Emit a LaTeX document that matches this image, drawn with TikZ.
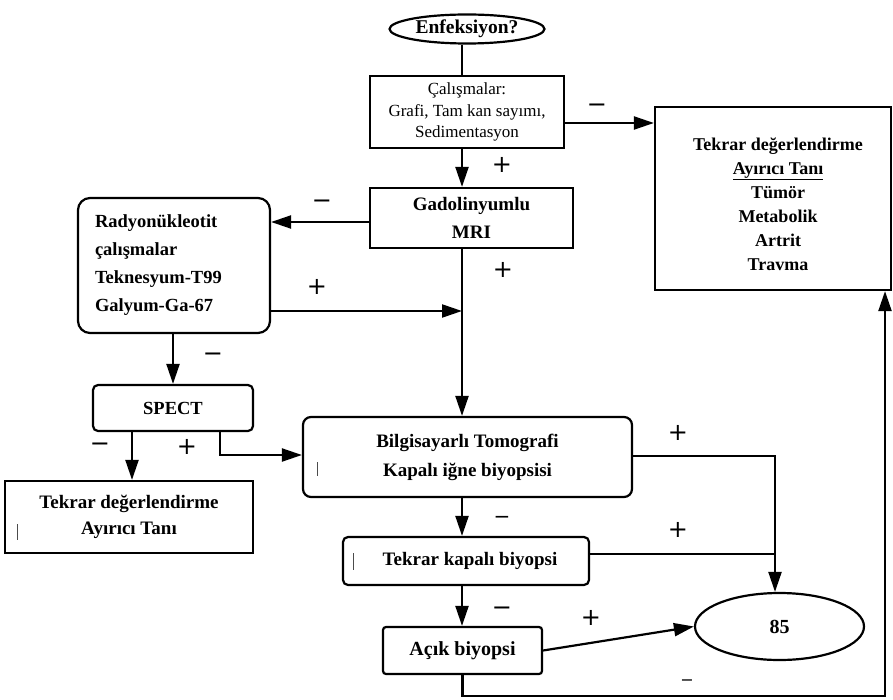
\documentclass[tikz,border=0pt]{standalone}
\usepackage{fontspec}
\setmainfont{Liberation Serif}
\newfontfamily\signfont{DejaVu Sans}
\usetikzlibrary{shapes.geometric,arrows.meta}
\begin{document}
\begin{tikzpicture}[x=1pt,y=-1pt,
  box/.style={draw, line width=2.2pt, inner sep=0pt, align=center,
    font=\bfseries\fontsize{18.5}{28}\selectfont},
  rbox/.style={box, rounded corners=#1},
  lbl/.style={font=\signfont\fontsize{24}{24}\selectfont, inner sep=0pt},
  arr/.style={line width=2.2pt, -{Triangle[length=20pt,width=13pt]}},
  ln/.style={line width=2.2pt},
  thinln/.style={line width=1.2pt},
  scanmark/.style={line width=1pt, black!70}]
\useasboundingbox[fill=white] (0,0) rectangle (893,700);
% spine coordinates
\coordinate (mx) at (462,0);
\coordinate (jx) at (775,0);
\coordinate (rx) at (885,0);
% nodes
\node[box, ellipse, minimum width=155pt, minimum height=29pt,
  font=\bfseries\fontsize{19.5}{24}\selectfont] (enf) at (467,29) {Enfeksiyon?};
\node[box, minimum width=194pt, minimum height=72pt,
  font=\fontsize{17}{21.5}\selectfont] (cal) at (467,112)
  {Çalışmalar:\\Grafi, Tam kan sayımı,\\Sedimentasyon};
\node[box, minimum width=203pt, minimum height=60pt,
  font=\bfseries\fontsize{19}{28}\selectfont] (gad) at (471.5,218) {Gadolinyumlu\\MRI};
\node[box, minimum width=236pt, minimum height=183pt] (rb) at (773,198.5) {};
\node[font=\bfseries\fontsize{18}{24}\selectfont, align=center, inner sep=0pt] (rbt) at (778,204)
  {Tekrar değerlendirme\\\underline{Ayırıcı Tanı}\\Tümör\\Metabolik\\Artrit\\Travma};
\node[rbox=12pt, minimum width=192pt, minimum height=135pt, align=left,
  text width=158pt, inner xsep=17pt] (rad) at (174,265.5)
  {Radyonükleotit\\çalışmalar\\Teknesyum-T99\\Galyum-Ga-67};
\node[rbox=5pt, minimum width=160pt, minimum height=46pt] (spect) at (173,408) {SPECT};
\node[box, minimum width=248pt, minimum height=72pt,
  font=\bfseries\fontsize{19}{26}\selectfont] (tl) at (129,517)
  {Tekrar değerlendirme\\Ayırıcı Tanı};
\node[rbox=8pt, minimum width=329pt, minimum height=80pt,
  font=\bfseries\fontsize{19}{29}\selectfont] (bt) at (467.5,457)
  {Bilgisayarlı Tomografi\\Kapalı iğne biyopsisi};
\node[rbox=5pt, minimum width=246pt, minimum height=48pt,
  font=\bfseries\fontsize{19}{24}\selectfont] (tk) at (466,561) {\hspace*{8pt}Tekrar kapalı biyopsi};
\node[rbox=3pt, minimum width=159pt, minimum height=47pt,
  font=\bfseries\fontsize{20}{24}\selectfont] (ab) at (462.5,650.5) {Açık biyopsi};
\node[box, ellipse, minimum width=169pt, minimum height=67pt,
  font=\bfseries\fontsize{20}{24}\selectfont] (e85) at (779.5,626.5) {85};
% connectors
\draw[ln] (enf.south -| mx) -- (cal.north -| mx);
\draw[arr] (cal.south -| mx) -- (gad.north -| mx);
\draw[arr] (cal.east |- 0,123) -- (rb.west |- 0,123);
\draw[arr] (gad.west |- 0,222) -- (rad.east |- 0,222);
\draw[arr] (gad.south -| mx) -- (bt.north -| mx);
\draw[arr] (rad.east |- 0,311) -- (mx |- 0,311);
\draw[arr] (rad.south -| spect.north) -- (spect.north);
\draw[arr] (spect.south -| 132,0) -- (tl.north -| 132,0);
\draw[arr] (spect.south -| 220,0) |- (bt.west |- 0,455);
\draw[arr] (bt.east |- 0,456) -| (e85.north -| jx);
\draw[thinln] (tk.east |- 0,554) -- (jx |- 0,554);
\draw[arr] (bt.south -| mx) -- (tk.north -| mx);
\draw[arr] (tk.south -| mx) -- (ab.north -| mx);
\draw[arr] (ab.east) -- (e85.west);
\draw[arr] (ab.south) |- (rx |- 0,696) -- (rb.south -| rx);
% signs
\node[lbl] (s1) at (597,108) {−};
\node[lbl] (s2) at (502,165) {+};
\node[lbl] (s3) at (322,204) {−};
\node[lbl] (s4) at (317,287) {+};
\node[lbl] (s5) at (503,270) {+};
\node[lbl] (s6) at (213,357) {−};
\node[lbl] (s7) at (100,447) {−};
\node[lbl] (s8) at (187,447) {+};
\node[lbl] (s9) at (678,433) {+};
\node[lbl, font=\signfont\fontsize{20}{20}\selectfont] (s10) at (502,520) {−};
\node[lbl] (s11) at (678,530) {+};
\node[lbl] (s12) at (502,611) {−};
\node[lbl] (s13) at (591,618) {+};
\node[lbl, font=\signfont\fontsize{16}{16}\selectfont] (s14) at (687,683) {−};
% scan marks
\draw[scanmark] (17,524) -- (17,540);
\draw[scanmark] (317,462) -- (317,476);
\draw[scanmark] (353,553) -- (353,570);
\end{tikzpicture}
\end{document}
